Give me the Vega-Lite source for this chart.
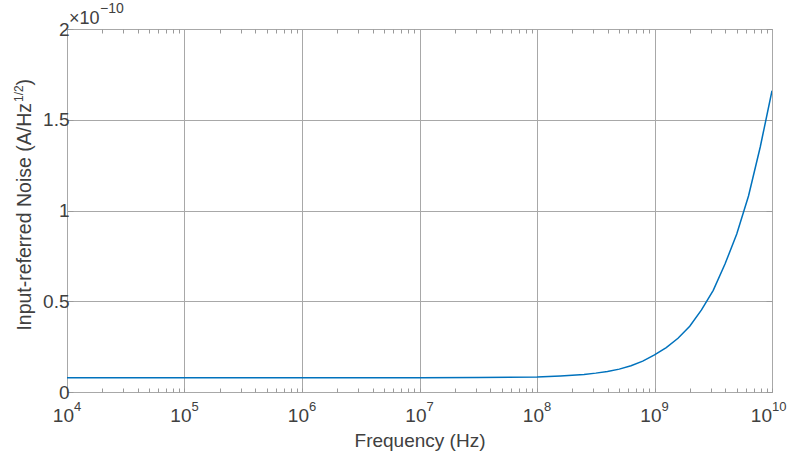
{
  "$schema": "https://vega.github.io/schema/vega-lite/v6.json",
  "width": 705,
  "height": 363,
  "autosize": "none",
  "padding": {"left": 67, "top": 29, "right": 21, "bottom": 63},
  "background": "white",
  "config": {
    "view": {"stroke": "#9a9a9a", "strokeWidth": 1},
    "font": "Liberation Sans",
    "text": {"font": "Liberation Sans", "color": "#404040"},
    "axis": {"labelFont": "Liberation Sans", "titleFont": "Liberation Sans", "labelColor": "#404040", "titleColor": "#404040", "titleFontWeight": "normal", "labelFontSize": 19, "titleFontSize": 19, "domain": false, "tickColor": "#9a9a9a", "gridColor": "#a8a8a8", "gridWidth": 1}
  },
  "datasets": {
    "noise": [
      {"freq_hz": 1e4, "noise_x1e10": 0.078},
      {"freq_hz": 3.162e4, "noise_x1e10": 0.078},
      {"freq_hz": 1e5, "noise_x1e10": 0.078},
      {"freq_hz": 3.162e5, "noise_x1e10": 0.078},
      {"freq_hz": 1e6, "noise_x1e10": 0.078},
      {"freq_hz": 3.162e6, "noise_x1e10": 0.078},
      {"freq_hz": 1e7, "noise_x1e10": 0.0785},
      {"freq_hz": 3.162e7, "noise_x1e10": 0.0795},
      {"freq_hz": 1e8, "noise_x1e10": 0.082},
      {"freq_hz": 1.259e8, "noise_x1e10": 0.085},
      {"freq_hz": 1.585e8, "noise_x1e10": 0.088},
      {"freq_hz": 1.995e8, "noise_x1e10": 0.092},
      {"freq_hz": 2.512e8, "noise_x1e10": 0.097},
      {"freq_hz": 3.162e8, "noise_x1e10": 0.104},
      {"freq_hz": 3.981e8, "noise_x1e10": 0.113},
      {"freq_hz": 5.012e8, "noise_x1e10": 0.126},
      {"freq_hz": 6.31e8, "noise_x1e10": 0.145},
      {"freq_hz": 7.943e8, "noise_x1e10": 0.17},
      {"freq_hz": 1e9, "noise_x1e10": 0.204},
      {"freq_hz": 1.259e9, "noise_x1e10": 0.245},
      {"freq_hz": 1.585e9, "noise_x1e10": 0.296},
      {"freq_hz": 1.995e9, "noise_x1e10": 0.362},
      {"freq_hz": 2.512e9, "noise_x1e10": 0.452},
      {"freq_hz": 3.162e9, "noise_x1e10": 0.56},
      {"freq_hz": 3.981e9, "noise_x1e10": 0.705},
      {"freq_hz": 5.012e9, "noise_x1e10": 0.87},
      {"freq_hz": 6.31e9, "noise_x1e10": 1.08},
      {"freq_hz": 7.943e9, "noise_x1e10": 1.35},
      {"freq_hz": 1e10, "noise_x1e10": 1.66}
    ],
    "decade_labels": [
      {"freq_hz": 1e4, "base": "10", "exponent": "4"},
      {"freq_hz": 1e5, "base": "10", "exponent": "5"},
      {"freq_hz": 1e6, "base": "10", "exponent": "6"},
      {"freq_hz": 1e7, "base": "10", "exponent": "7"},
      {"freq_hz": 1e8, "base": "10", "exponent": "8"},
      {"freq_hz": 1e9, "base": "10", "exponent": "9"},
      {"freq_hz": 1e10, "base": "10", "exponent": "10"}
    ]
  },
  "resolve": {"axis": {"x": "independent", "y": "independent"}},
  "layer": [
    {
      "data": {"name": "noise"},
      "mark": {"type": "line", "color": "#0072BD", "strokeWidth": 1.5, "clip": true},
      "encoding": {
        "x": {"field": "freq_hz", "type": "quantitative",
          "scale": {"type": "log", "domain": [1e4, 1e10], "nice": false},
          "axis": {"orient": "bottom", "title": "Frequency (Hz)", "titleX": 352.5, "titleY": 54, "titleBaseline": "alphabetic", "titleAnchor": "middle",
            "values": [1e4,2e4,3e4,4e4,5e4,6e4,7e4,8e4,9e4,1e5,2e5,3e5,4e5,5e5,6e5,7e5,8e5,9e5,1e6,2e6,3e6,4e6,5e6,6e6,7e6,8e6,9e6,1e7,2e7,3e7,4e7,5e7,6e7,7e7,8e7,9e7,1e8,2e8,3e8,4e8,5e8,6e8,7e8,8e8,9e8,1e9,2e9,3e9,4e9,5e9,6e9,7e9,8e9,9e9,1e10],
            "labels": false,
            "tickSize": -4,
            "gridOpacity": {"condition": {"test": "abs(log(datum.value)/LN10 - round(log(datum.value)/LN10)) < 0.000001", "value": 1}, "value": 0}}},
        "y": {"field": "noise_x1e10", "type": "quantitative",
          "scale": {"domain": [0, 2], "nice": false, "zero": true},
          "axis": {"orient": "left", "values": [0, 0.5, 1, 1.5, 2], "format": "~g", "title": null, "tickSize": -6, "labelPadding": 4}}
      }
    },
    {
      "data": {"name": "noise"},
      "mark": {"type": "line", "opacity": 0},
      "encoding": {
        "x": {"field": "freq_hz", "type": "quantitative",
          "scale": {"type": "log", "domain": [1e4, 1e10], "nice": false},
          "axis": {"orient": "top", "title": null, "labels": false, "grid": false,
            "values": [2e4,3e4,4e4,5e4,6e4,7e4,8e4,9e4,2e5,3e5,4e5,5e5,6e5,7e5,8e5,9e5,2e6,3e6,4e6,5e6,6e6,7e6,8e6,9e6,2e7,3e7,4e7,5e7,6e7,7e7,8e7,9e7,2e8,3e8,4e8,5e8,6e8,7e8,8e8,9e8,2e9,3e9,4e9,5e9,6e9,7e9,8e9,9e9],
            "tickSize": -4}},
        "y": {"field": "noise_x1e10", "type": "quantitative",
          "scale": {"domain": [0, 2], "nice": false, "zero": true},
          "axis": {"orient": "right", "title": null, "labels": false, "grid": false, "values": [0, 0.5, 1, 1.5, 2], "tickSize": -6}}
      }
    },
    {
      "data": {"name": "decade_labels"},
      "transform": [{"filter": "datum.freq_hz < 1e10"}],
      "mark": {"type": "text", "align": "right", "baseline": "alphabetic", "fontSize": 19, "dx": 7, "dy": 30},
      "encoding": {
        "x": {"field": "freq_hz", "type": "quantitative", "scale": {"type": "log", "domain": [1e4, 1e10], "nice": false}, "axis": null},
        "y": {"datum": 0, "type": "quantitative", "axis": null},
        "text": {"field": "base"}
      }
    },
    {
      "data": {"name": "decade_labels"},
      "transform": [{"filter": "datum.freq_hz < 1e10"}],
      "mark": {"type": "text", "align": "left", "baseline": "alphabetic", "fontSize": 13, "dx": 7, "dy": 19},
      "encoding": {
        "x": {"field": "freq_hz", "type": "quantitative", "scale": {"type": "log", "domain": [1e4, 1e10], "nice": false}, "axis": null},
        "y": {"datum": 0, "type": "quantitative", "axis": null},
        "text": {"field": "exponent"}
      }
    },
    {
      "data": {"name": "decade_labels"},
      "transform": [{"filter": "datum.freq_hz >= 1e10"}],
      "mark": {"type": "text", "align": "right", "baseline": "alphabetic", "fontSize": 19, "dx": 0, "dy": 30},
      "encoding": {
        "x": {"field": "freq_hz", "type": "quantitative", "scale": {"type": "log", "domain": [1e4, 1e10], "nice": false}, "axis": null},
        "y": {"datum": 0, "type": "quantitative", "axis": null},
        "text": {"field": "base"}
      }
    },
    {
      "data": {"name": "decade_labels"},
      "transform": [{"filter": "datum.freq_hz >= 1e10"}],
      "mark": {"type": "text", "align": "left", "baseline": "alphabetic", "fontSize": 13, "dx": 0, "dy": 19},
      "encoding": {
        "x": {"field": "freq_hz", "type": "quantitative", "scale": {"type": "log", "domain": [1e4, 1e10], "nice": false}, "axis": null},
        "y": {"datum": 0, "type": "quantitative", "axis": null},
        "text": {"field": "exponent"}
      }
    },
    {
      "data": {"values": [{}]},
      "mark": {"type": "text", "align": "left", "baseline": "alphabetic", "fontSize": 18, "dx": 2, "dy": -5},
      "encoding": {
        "x": {"datum": 10000, "type": "quantitative", "axis": null},
        "y": {"datum": 2, "type": "quantitative", "axis": null},
        "text": {"value": "×10"}
      }
    },
    {
      "data": {"values": [{}]},
      "mark": {"type": "text", "align": "left", "baseline": "alphabetic", "fontSize": 14, "dx": 33, "dy": -16},
      "encoding": {
        "x": {"datum": 10000, "type": "quantitative", "axis": null},
        "y": {"datum": 2, "type": "quantitative", "axis": null},
        "text": {"value": "−10"}
      }
    },
    {
      "data": {"values": [{}]},
      "mark": {"type": "text", "align": "right", "baseline": "alphabetic", "fontSize": 19.5, "angle": 270, "dx": 107.5, "dy": -36},
      "encoding": {
        "x": {"datum": 10000, "type": "quantitative", "axis": null},
        "y": {"datum": 1, "type": "quantitative", "axis": null},
        "text": {"value": "Input-referred Noise (A/Hz"}
      }
    },
    {
      "data": {"values": [{}]},
      "mark": {"type": "text", "align": "left", "baseline": "alphabetic", "fontSize": 12, "angle": 270, "dx": 108.5, "dy": -44},
      "encoding": {
        "x": {"datum": 10000, "type": "quantitative", "axis": null},
        "y": {"datum": 1, "type": "quantitative", "axis": null},
        "text": {"value": "1/2"}
      }
    },
    {
      "data": {"values": [{}]},
      "mark": {"type": "text", "align": "left", "baseline": "alphabetic", "fontSize": 19.5, "angle": 270, "dx": 125, "dy": -36},
      "encoding": {
        "x": {"datum": 10000, "type": "quantitative", "axis": null},
        "y": {"datum": 1, "type": "quantitative", "axis": null},
        "text": {"value": ")"}
      }
    }
  ]
}
